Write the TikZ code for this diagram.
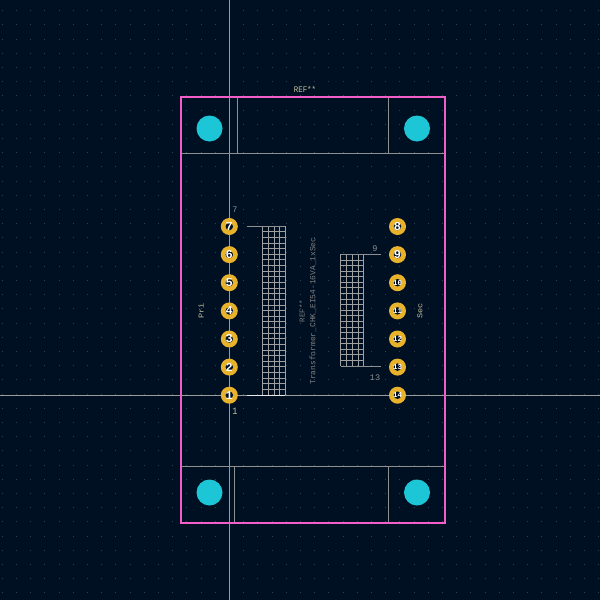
\documentclass[tikz,border=0pt]{standalone}
\usepackage{fontspec}
\setmainfont{Liberation Mono}
\definecolor{bgc}{HTML}{001023}
\definecolor{fabc}{HTML}{8F8F8F}
\definecolor{crossc}{HTML}{9A9A9A}
\definecolor{edgec}{HTML}{F040C0}
\definecolor{padc}{HTML}{E9B22B}
\definecolor{holec}{HTML}{1CC6D6}
\definecolor{silkc}{HTML}{C2C29A}
\definecolor{dotc}{HTML}{333F50}
\tikzset{
  fabline/.style={draw=fabc,line width=0.8pt},
  gridline/.style={draw=fabc!85!white,line width=0.7pt},
  edgeline/.style={draw=edgec!85!white,line width=1.4pt},
  crossline/.style={draw=crossc,line width=0.7pt},
  padnode/.style={circle,fill=padc,minimum size=17pt,inner sep=0pt},
  holenode/.style={circle,fill=holec,minimum size=26pt,inner sep=0pt},
  holecore/.style={circle,fill=bgc,minimum size=7.5pt,inner sep=0pt},
  padtext/.style={font=\fontsize{12}{12}\selectfont\bfseries,text=white},
  padtextb/.style={font=\fontsize{7.5}{7.5}\selectfont\bfseries,text=white,inner sep=0pt},
  silktext/.style={font=\fontsize{7.4}{7.4}\selectfont,text=silkc,yscale=1.15},
  fabtext/.style={font=\fontsize{8.5}{8.5}\selectfont,text=fabc},
  fabsmall/.style={font=\fontsize{7.9}{7.9}\selectfont,text=fabc!115!white},
}
\begin{document}
\begin{tikzpicture}[x=1pt,y=-1pt]
\useasboundingbox (0,0) rectangle (600,600);
\fill[bgc] (0,0) rectangle (600,600);
% grid
\foreach \i in {0,...,42}{\foreach \j in {0,...,41}{
  \fill[dotc] ({2.3+14.2*\i-0.5},{10.7+14.2*\j-0.5}) rectangle ++(1,1);
}}
% crosshair
\coordinate (ct) at (229.5,0); \coordinate (cb) at (229.5,600);
\coordinate (cl) at (0,395); \coordinate (cr) at (600,395);
\draw[crossline] (ct)--(cb);
\draw[crossline] (cl)--(cr);
% fab outline
\draw[fabline] (181,153.5)--(445,153.5);
\draw[fabline] (181,466.7)--(445,466.7);
\draw[fabline] (237.7,97)--(237.7,153.5);
\draw[fabline] (388.5,97)--(388.5,153.5);
\draw[fabline] (234.5,466.7)--(234.5,523);
\draw[fabline] (388.5,466.7)--(388.5,523);
\draw[edgeline] (181,97) rectangle (445,523);
% windings
\foreach \x in {262.7,268.3,274,279.4,285}{\draw[gridline] (\x,226)--(\x,395);}
\foreach \k in {0,...,30}{\draw[gridline] (262.7,226+5.633*\k)--(285,226+5.633*\k);}
\foreach \x in {340.7,346.5,352.2,358,363.7}{\draw[gridline] (\x,254.3)--(\x,366);}
\foreach \k in {0,...,20}{\draw[gridline] (340.7,254.3+5.585*\k)--(363.7,254.3+5.585*\k);}
\draw[fabline] (246.5,226)--(285,226);
\draw[fabline,draw=white!80!fabc] (246.5,395)--(285,395);
\draw[fabline] (340.7,254.3)--(381,254.3);
\draw[fabline] (340.7,366)--(381,366);
% holes
\node[holenode] (h1) at (209.5,128.5) {};
\node[holenode] (h2) at (417,128.5) {};
\node[holenode] (h3) at (209.5,492.5) {};
\node[holenode] (h4) at (417,492.5) {};
% pads
\foreach \n/\y in {7/226.5,6/254.6,5/282.7,4/310.9,3/339,2/367.1,1/395.2}{
  \node[padnode] (p\n) at (229.3,\y) {};
  \node[holecore] at (p\n) {};
  \node[padtext] (t\n) at (p\n) {\n};
}
\foreach \n/\y in {8/226.5,9/254.6}{
  \node[padnode] (p\n) at (397.5,\y) {};
  \node[holecore] at (p\n) {};
  \node[padtext] (t\n) at (p\n) {\n};
}
\foreach \n/\y in {10/282.7,11/310.9,12/339,13/367.1,14/395.2}{
  \node[padnode] (p\n) at (397.5,\y) {};
  \node[holecore] at (p\n) {};
  \node[padtextb] (t\n) at (p\n) {\n};
}
% texts
\node[silktext] (reftop) at (305,89.5) {REF**};
\node[silktext,rotate=90] (pri) at (201,311) {Pri};
\node[silktext,rotate=90] (sec) at (420,311) {Sec};
\node[fabsmall,font=\fontsize{7.4}{7.4}\selectfont,rotate=90] (refmid) at (302,311) {REF**};
\node[fabsmall,rotate=90] (val) at (313,311) {Transformer\_CHK\_EI54-16VA\_1xSec};
\node[fabtext] (l7) at (235,210) {7};
\node[fabtext] (l9) at (375,249) {9};
\node[fabtext] (l13) at (375,378) {13};
\node[silktext,font=\fontsize{8.5}{8.5}\selectfont] (l1) at (235,411) {1};
\end{tikzpicture}
\end{document}
